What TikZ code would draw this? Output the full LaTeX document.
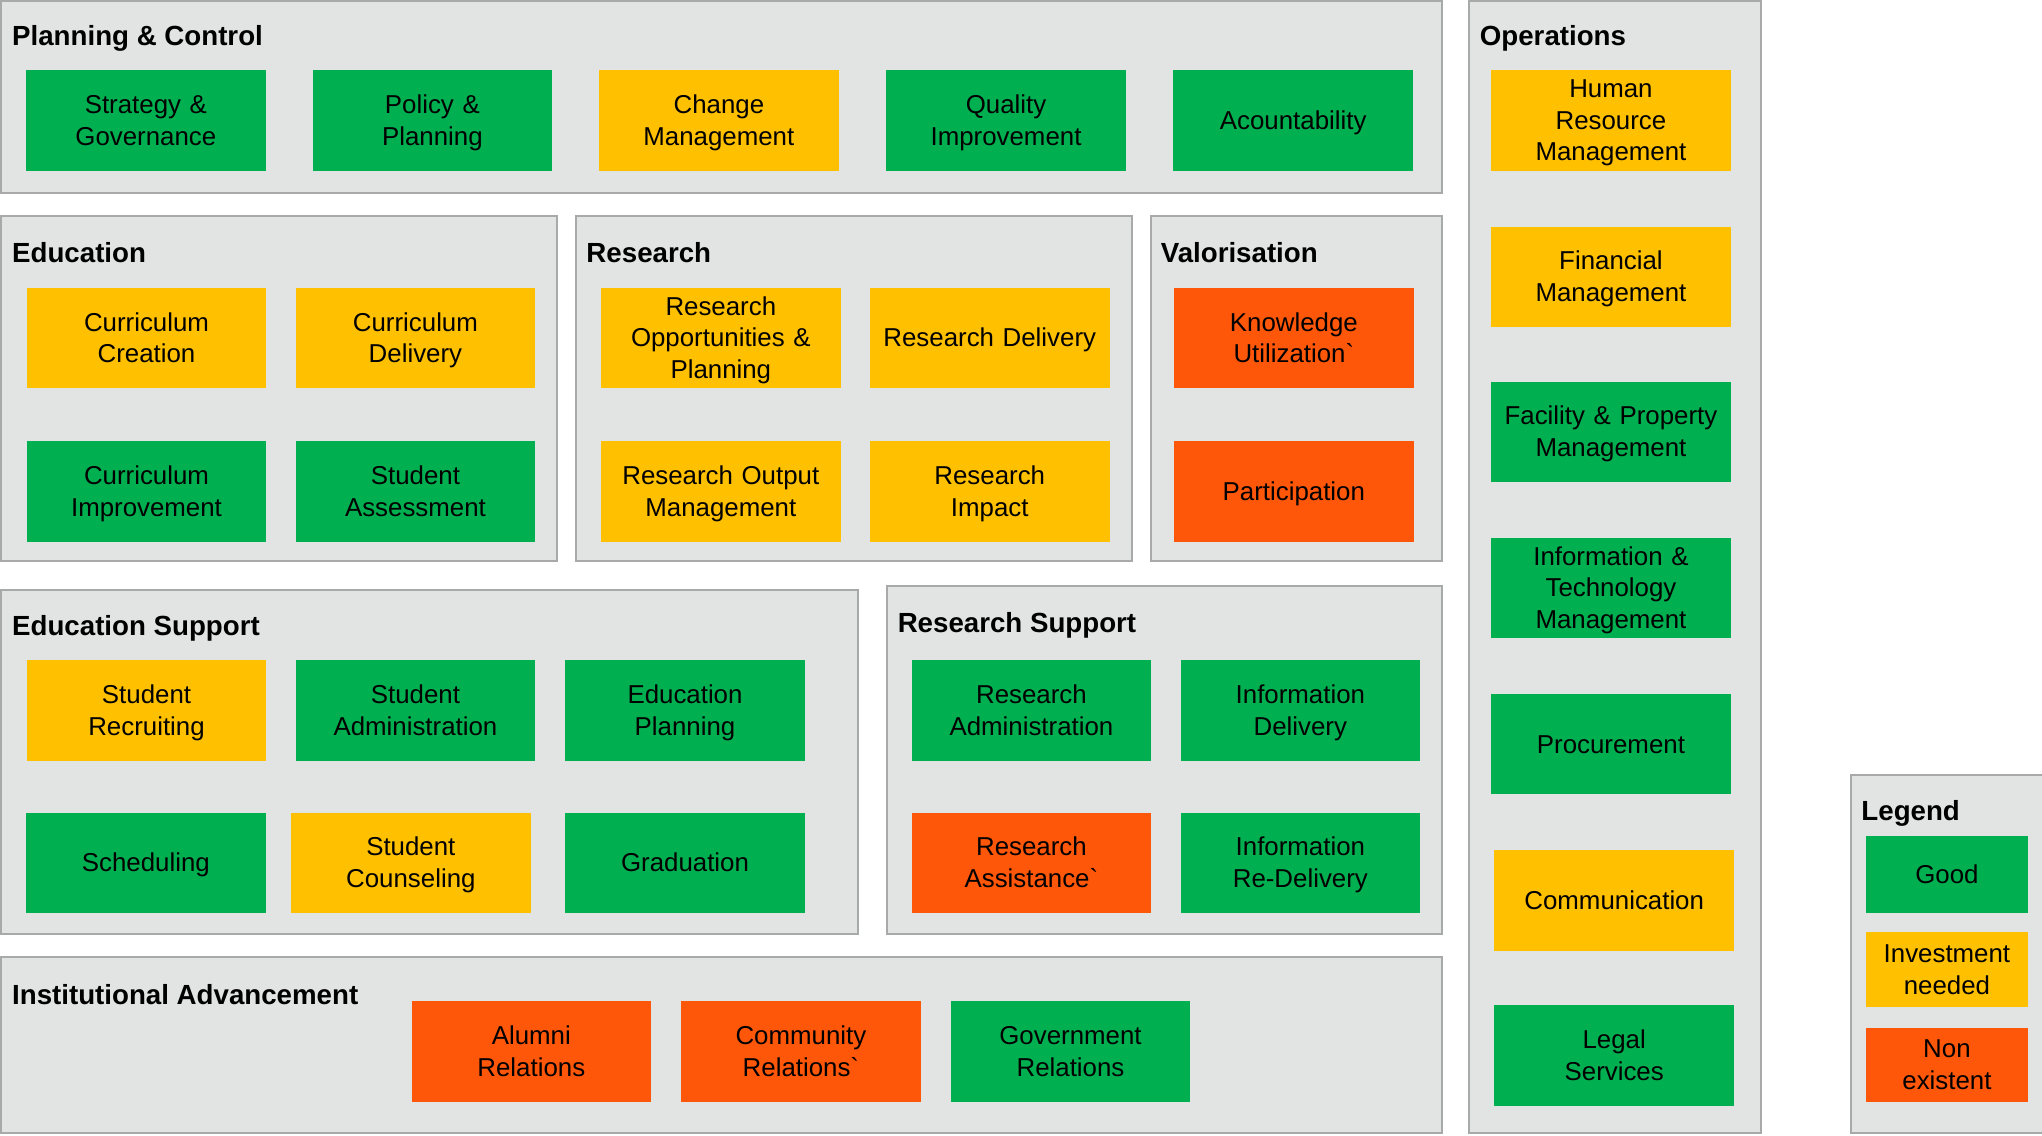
\documentclass[tikz,border=0pt]{standalone}
\usepackage{fontspec}
\setmainfont{Liberation Sans}
\usepackage{tikz}
\usetikzlibrary{positioning}
\definecolor{good}{HTML}{00B050}
\definecolor{invest}{HTML}{FFC000}
\definecolor{absent}{HTML}{FF570A}
\definecolor{areafill}{HTML}{E2E3E3}
\definecolor{arealine}{HTML}{A8A9A9}

\tikzset{
  area/.style={draw=arealine, fill=areafill, line width=0.9pt},
  areatitle/.style={anchor=base west, inner sep=0pt, font=\fontsize{12.1}{14}\selectfont\bfseries},
  cap box/.style={text width=3.6cm, minimum height=1.54cm, inner xsep=0.04cm, inner ysep=0pt,
    align=center, font=\fontsize{11.3}{13.8}\selectfont,
    execute at begin node={\vrule height 0.905em depth 0pt width 0pt},
    execute at end node={\vrule height 0pt depth 0.212em width 0pt}},
  goodbox/.style={cap box, fill=good},
  investbox/.style={cap box, fill=invest},
  absentbox/.style={cap box, fill=absent},
  legendbox/.style={text width=2.4cm},
}

\begin{document}
\begin{tikzpicture}[x=0.02cm, y=-0.02cm]
\useasboundingbox (0,0) rectangle (1568,872);
\clip (0,0) rectangle (1568,872);

% areas
\draw [area] (1,1) rectangle (1107,148);
\draw [area] (1128,1) rectangle (1352,870);
\draw [area] (1,166) rectangle (428,431);
\draw [area] (442,166) rectangle (869,431);
\draw [area] (884,166) rectangle (1107,431);
\draw [area] (1,453) rectangle (659,717);
\draw [area] (681,450) rectangle (1107,717);
\draw [area] (1,735) rectangle (1107,870);
\draw [area] (1421,595) rectangle (1580,870);

% area titles
\node [areatitle] (tplan) at (9,35.3) {Planning \& Control};
\node [areatitle] (tops) at (1136,35.3) {Operations};
\node [areatitle] (tedu) at (9,201.3) {Education};
\node [areatitle] (tres) at (450,201.3) {Research};
\node [areatitle] (tval) at (891,201.3) {Valorisation};
\node [areatitle] (tedusup) at (9,488.3) {Education Support};
\node [areatitle] (tressup) at (689,485.3) {Research Support};
\node [areatitle] (tinst) at (9,771.3) {Institutional Advancement};
\node [areatitle] (tlegend) at (1429,630.3) {Legend};

% planning & control
\node [goodbox] (strategy) at (112,92.5) {Strategy \&\\Governance};
\node [goodbox] (policy) at (332,92.5) {Policy \&\\Planning};
\node [investbox] (change) at (552,92.5) {Change\\Management};
\node [goodbox] (quality) at (772.5,92.5) {Quality\\Improvement};
\node [goodbox] (account) at (993,92.5) {Acountability};

% operations
\node [investbox] (hrm) at (1237,92.5) {Human\\Resource\\Management};
\node [investbox] (finance) at (1237,212.5) {Financial\\Management};
\node [goodbox] (facility) at (1237,331.5) {Facility \& Property\\Management};
\node [goodbox] (infotech) at (1237,451.5) {Information \&\\Technology\\Management};
\node [goodbox] (procure) at (1237,571.5) {Procurement};
\node [investbox] (comms) at (1239.5,691.5) {Communication};
\node [goodbox] (legal) at (1239.5,810.5) {Legal\\Services};

% education
\node [investbox] (currcreate) at (112.5,259.5) {Curriculum\\Creation};
\node [investbox] (currdeliver) at (319,259.5) {Curriculum\\Delivery};
\node [goodbox] (currimprove) at (112.5,377.5) {Curriculum\\Improvement};
\node [goodbox] (assess) at (319,377.5) {Student\\Assessment};

% research
\node [investbox] (resopp) at (553.5,259.5) {Research\\Opportunities \&\\Planning};
\node [investbox] (resdeliver) at (760,259.5) {Research Delivery};
\node [investbox] (resoutput) at (553.5,377.5) {Research Output\\Management};
\node [investbox] (resimpact) at (760,377.5) {Research\\Impact};

% valorisation
\node [absentbox] (knowledge) at (993.5,259.5) {Knowledge\\Utilization\textasciigrave};
\node [absentbox] (particip) at (993.5,377.5) {Participation};

% education support
\node [investbox] (recruit) at (112.5,545.5) {Student\\Recruiting};
\node [goodbox] (studadmin) at (319,545.5) {Student\\Administration};
\node [goodbox] (eduplan) at (526,545.5) {Education\\Planning};
\node [goodbox] (schedule) at (112,662.5) {Scheduling};
\node [investbox] (counsel) at (315.5,662.5) {Student\\Counseling};
\node [goodbox] (graduate) at (526,662.5) {Graduation};

% research support
\node [goodbox] (resadmin) at (792,545.5) {Research\\Administration};
\node [goodbox] (infodeliver) at (998.5,545.5) {Information\\Delivery};
\node [absentbox] (resassist) at (792,662.5) {Research\\Assistance\textasciigrave};
\node [goodbox] (inforedeliver) at (998.5,662.5) {Information\\Re-Delivery};

% institutional advancement
\node [absentbox] (alumni) at (408,807.5) {Alumni\\Relations};
\node [absentbox] (community) at (615,807.5) {Community\\Relations\textasciigrave};
\node [goodbox] (government) at (822,807.5) {Government\\Relations};

% legend
\node [goodbox, legendbox, minimum height=1.18cm] (lgood) at (1495,671.5) {Good};
\node [investbox, legendbox, minimum height=1.14cm] (linvest) at (1495,744.5) {Investment\\needed};
\node [absentbox, legendbox, minimum height=1.14cm] (labsent) at (1495,817.5) {Non\\existent};
\end{tikzpicture}
\end{document}
